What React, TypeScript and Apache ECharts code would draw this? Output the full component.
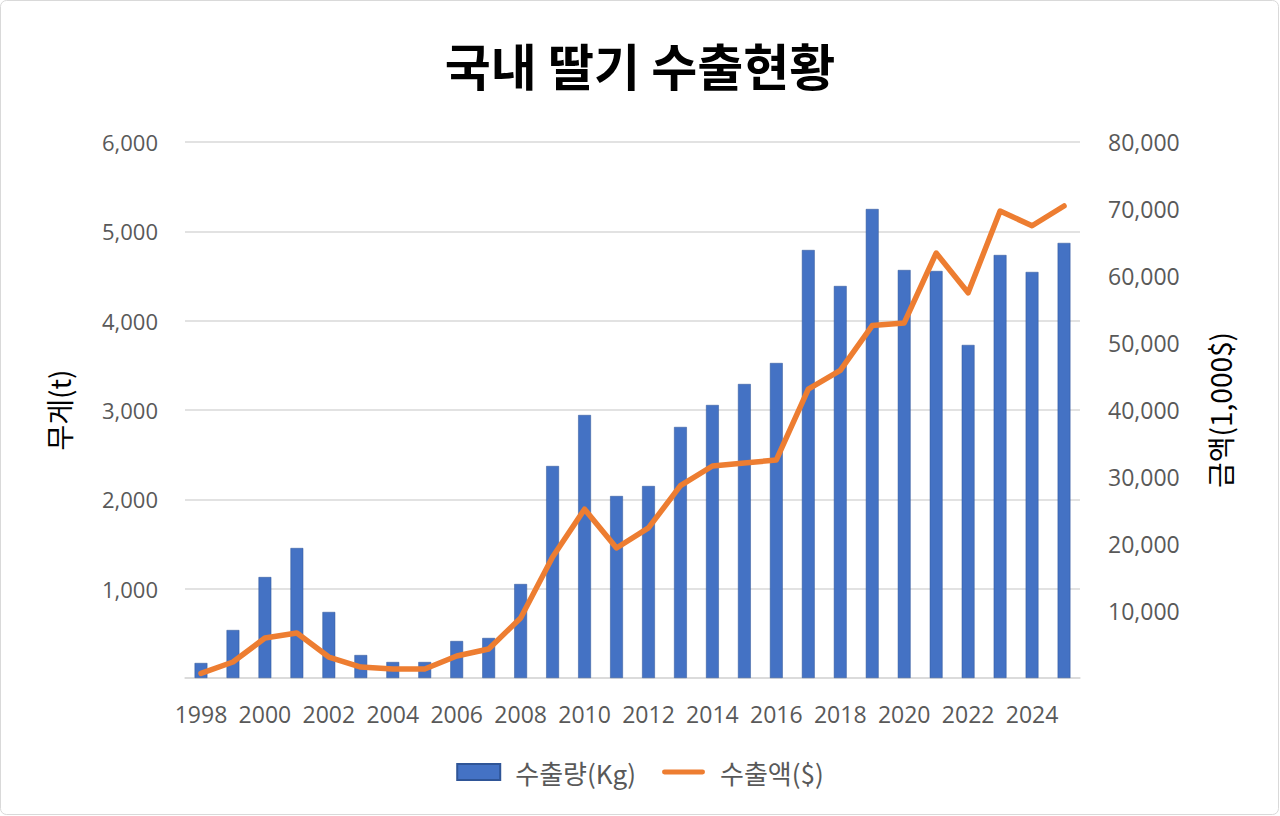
import React, { useEffect, useRef } from "react";
import * as echarts from "echarts";

const years = [
  "1998", "1999", "2000", "2001", "2002", "2003", "2004", "2005", "2006", "2007",
  "2008", "2009", "2010", "2011", "2012", "2013", "2014", "2015", "2016", "2017",
  "2018", "2019", "2020", "2021", "2022", "2023", "2024", "2025",
];

const weightValues = [
  168, 537, 1130, 1455, 739, 257, 179, 179, 414, 448,
  1052, 2373, 2944, 2037, 2149, 2810, 3056, 3291, 3526, 4791,
  4388, 5250, 4567, 4556, 3728, 4735, 4545, 4870,
];

const amountValues = [
  700, 2390, 5970, 6720, 3130, 1640, 1340, 1340, 3280, 4330,
  8960, 18060, 25200, 19400, 22400, 28700, 31640, 32090, 32540, 43130,
  45900, 52600, 52990, 63430, 57500, 69700, 67500, 70450,
];

const titleText = "국내 딸기 수출현황";
const barName = "수출량(Kg)";
const lineName = "수출액($)";
const leftAxisName = "무게(t)";
const rightAxisName = "금액(1,000$)";

const fmt = (v: number) => (v === 0 ? "" : v.toLocaleString("en-US"));

export default function App() {
  const ref = useRef<HTMLDivElement>(null);
  useEffect(() => {
    if (!ref.current) return;
    const chart = echarts.init(ref.current, undefined, { renderer: "svg" });
    const font = "'Open Sans', 'Noto Sans CJK KR', sans-serif";
    const cjk = "'Noto Sans CJK KR', sans-serif";
    chart.setOption({
      animation: false,
      backgroundColor: "#ffffff",
      textStyle: { fontFamily: font },
      title: {
        text: titleText,
        left: "center",
        top: 34,
        textStyle: {
          fontFamily: cjk,
          fontSize: 50,
          fontWeight: "bold",
          color: "#000000",
        },
      },
      graphic: [
        {
          type: "rect",
          shape: { x: 0.5, y: 0.5, width: 1278, height: 814, r: 6 },
          style: { fill: "none", stroke: "#d9d9d9", lineWidth: 1 },
          silent: true,
        },
      ],
      legend: {
        bottom: 26,
        left: "center",
        itemGap: 26,
        itemWidth: 43,
        itemHeight: 16,
        textStyle: { fontFamily: cjk, fontSize: 26, color: "#595959", padding: [0, 0, 0, 10] },
        data: [
          { name: barName, icon: "rect" },
          { name: lineName, icon: "path://M2,0 L41,0 A2.5,2.5 0 0 1 41,5 L2,5 A2.5,2.5 0 0 1 2,0 Z" },
        ],
      },
      grid: { left: 185, right: 200, top: 142, bottom: 138, containLabel: false },
      xAxis: {
        type: "category",
        data: years,
        axisTick: { show: false },
        axisLine: { lineStyle: { color: "#d9d9d9", width: 1.5 } },
        axisLabel: {
          interval: 1,
          fontSize: 23,
          color: "#595959",
          margin: 24,
          fontFamily: font,
        },
      },
      yAxis: [
        {
          type: "value",
          min: 0,
          max: 6000,
          interval: 1000,
          name: leftAxisName,
          nameLocation: "middle",
          nameGap: 112,
          nameTextStyle: { fontSize: 28, color: "#000000", fontFamily: cjk },
          axisLine: { show: false },
          axisTick: { show: false },
          splitLine: { lineStyle: { color: "#d9d9d9", width: 1.5 } },
          axisLabel: { formatter: fmt, fontSize: 22, color: "#595959", margin: 27, fontFamily: font },
        },
        {
          type: "value",
          min: 0,
          max: 80000,
          interval: 10000,
          name: rightAxisName,
          nameLocation: "middle",
          nameRotate: 90,
          nameGap: 126,
          nameTextStyle: { fontSize: 28, color: "#000000", fontFamily: cjk },
          axisLine: { show: false },
          axisTick: { show: false },
          splitLine: { show: false },
          axisLabel: { formatter: fmt, fontSize: 23, color: "#595959", margin: 28, fontFamily: font },
        },
      ],
      series: [
        {
          name: barName,
          type: "bar",
          data: weightValues,
          yAxisIndex: 0,
          barWidth: "40%",
          itemStyle: { color: "#4472C4", borderColor: "#2F5597", borderWidth: 0.5 },
        },
        {
          name: lineName,
          type: "line",
          data: amountValues,
          yAxisIndex: 1,
          symbol: "none",
          lineStyle: { color: "#ED7D31", width: 5.5, cap: "round", join: "round" },
          itemStyle: { color: "#ED7D31" },
        },
      ],
    });
    return () => chart.dispose();
  }, []);
  return (
    <div
      ref={ref}
      style={{ position: "fixed", left: 0, top: 0, width: 1280, height: 816 }}
    />
  );
}
